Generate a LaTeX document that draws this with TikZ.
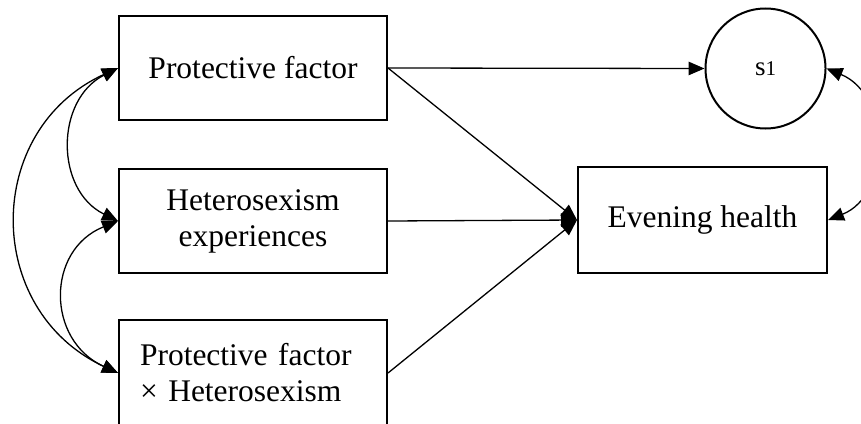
\documentclass[tikz,border=0pt]{standalone}
\usepackage{fontspec}
\setmainfont{Liberation Serif}
\usetikzlibrary{arrows.meta}
\begin{document}
\begin{tikzpicture}[x=1pt,y=-1pt,
  box/.style={draw, line width=2pt, minimum width=268pt, minimum height=104pt,
    inner sep=0pt, font=\fontsize{31.5}{36}\selectfont, align=center},
  latent/.style={draw, circle, line width=2pt, minimum size=120pt, inner sep=0pt},
  tip/.style={Triangle[length=16pt,width=13.5pt]},
  path/.style={line width=1.3pt, -{Triangle[length=16pt,width=13.5pt]}},
  cov/.style={line width=1.3pt, {Triangle[length=16pt,width=13.5pt]}-{Triangle[length=16pt,width=13.5pt]}}]
  \useasboundingbox (0,0) rectangle (861,423);

  % predictors
  \node[box] (pf) at (253,68) {Protective factor};
  \node[box] (hx) at (253,221) {Heterosexism\\experiences};
  \node[box, minimum height=106pt, text width=226pt, inner xsep=21pt, align=left]
    (int) at (253,373) {Protective factor\\× Heterosexism};

  % outcome and residual
  \node[box, minimum width=249pt, minimum height=106pt] (eh) at (702.5,220) {Evening health};
  \node[latent] (s1) at (765.5,68.5) {\fontsize{27}{30}\selectfont s{\fontsize{21}{24}\selectfont 1}};

  % regression paths
  \draw[path] (pf.east) -- (s1.west);
  \draw[path] (pf.east) -- (eh.west);
  \draw[path] (hx.east) -- (eh.west);
  \draw[path] (int.east) -- (eh.west);

  % covariances among predictors
  \draw[cov] (pf.west) .. controls (-17,130) and (-17,310) .. (int.west);
  \draw[cov] (pf.west) .. controls (55,100) and (55,190) .. (hx.west);
  \draw[cov] (hx.west) .. controls (46,250) and (46,340) .. (int.west);

  % residual link
  \draw[cov] (s1.east) .. controls (891,95) and (891,195) .. (eh.east);
\end{tikzpicture}
\end{document}
